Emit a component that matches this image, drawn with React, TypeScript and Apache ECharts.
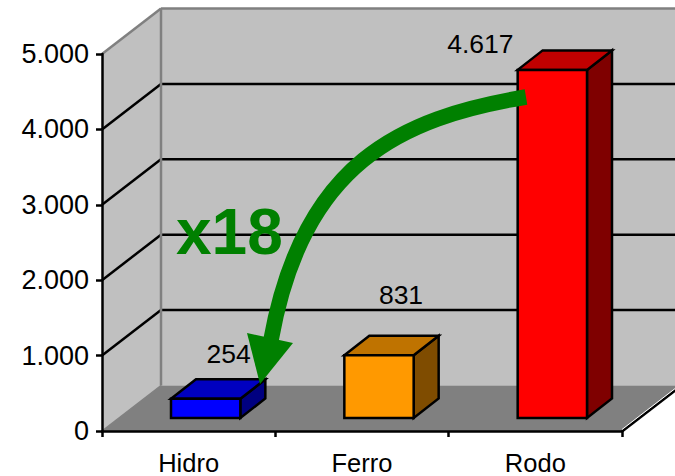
import React, { useEffect, useRef } from "react";
import * as echarts from "echarts";

const categories = ["Hidro", "Ferro", "Rodo"];
const values = [254, 831, 4617];
const valueLabels = ["254", "831", "4.617"];
const yTicks = [1000, 2000, 3000, 4000];
const frontColors = ["#0000FF", "#FF9900", "#FF0000"];
const topColors = ["#0000C0", "#BF7300", "#C00000"];
const sideColors = ["#000080", "#7F4C00", "#7F0000"];

const WALL_DX = 59;
const WALL_DY = -45.5;
const BAR_GAP_DX = 17;
const BAR_GAP_DY = -13;
const BAR_DEPTH_DX = 25;
const BAR_DEPTH_DY = -19.5;
const LABEL_OFFSETS = [[23, -45], [22, -60], [-72, -26]];
const FONT = '"Liberation Sans", Arial, sans-serif';

echarts.graphic.registerShape(
  "arrowCurve",
  echarts.graphic.extendPath("M526 97 C 400 118, 303 163, 271 340", {})
);

const line = (x1: number, y1: number, x2: number, y2: number, stroke: string, lineWidth: number) => ({
  type: "line",
  shape: { x1, y1, x2, y2 },
  style: { stroke, lineWidth, fill: "none" },
});

const wallsItem = (params: any, api: any) => {
  const cs = params.coordSys;
  const left = cs.x;
  const right = cs.x + cs.width;
  const top = cs.y;
  const bottom = cs.y + cs.height;
  const poly = (points: number[][], fill: string) => ({
    type: "polygon",
    shape: { points },
    style: { fill, stroke: "none" },
  });
  const children: any[] = [
    poly([[left + WALL_DX, top + WALL_DY], [right + WALL_DX, top + WALL_DY], [right + WALL_DX, bottom + WALL_DY], [left + WALL_DX, bottom + WALL_DY]], "#C0C0C0"),
    poly([[left, top], [left + WALL_DX, top + WALL_DY], [left + WALL_DX, bottom + WALL_DY], [left, bottom]], "#C0C0C0"),
    poly([[left, bottom], [right, bottom], [right + WALL_DX, bottom + WALL_DY], [left + WALL_DX, bottom + WALL_DY]], "#808080"),
  ];
  yTicks.forEach((v) => {
    const y = api.coord([0, v])[1];
    children.push(line(left, y, left + WALL_DX, y + WALL_DY, "#000", 2.5));
    children.push(line(left + WALL_DX, y + WALL_DY, right + WALL_DX, y + WALL_DY, "#000", 2.5));
  });
  children.push(line(left, top, left + WALL_DX, top + WALL_DY, "#808080", 2.5));
  children.push(line(left + WALL_DX, top + WALL_DY, right + WALL_DX, top + WALL_DY, "#808080", 2.5));
  children.push(line(left + WALL_DX, top + WALL_DY, left + WALL_DX, bottom + WALL_DY, "#808080", 2.5));
  children.push(line(left, bottom, left + WALL_DX, bottom + WALL_DY, "#808080", 1.5));
  children.push(line(right, bottom + 0.5, right + WALL_DX, bottom + WALL_DY + 0.5, "#000", 2.5));
  children.push(line(right, bottom - 1.5, right + WALL_DX, bottom + WALL_DY - 1.5, "#fff", 1));
  return { type: "group", children };
};

const barItem = (params: any, api: any) => {
  const i = api.value(0);
  const v = api.value(1);
  const [cx, yTop0] = api.coord([i, v]);
  const [, yBase0] = api.coord([i, 0]);
  const band = api.size([1, 0])[0];
  const w = band * 0.4;
  const x0 = cx - w / 2 + BAR_GAP_DX;
  const x1 = x0 + w;
  const yT = yTop0 + BAR_GAP_DY;
  const yB = yBase0 + BAR_GAP_DY;
  const dx = BAR_DEPTH_DX;
  const dy = BAR_DEPTH_DY;
  const face = (points: number[][], fill: string) => ({
    type: "polygon",
    shape: { points },
    style: { fill, stroke: "#000", lineWidth: 2.5, lineJoin: "miter" },
  });
  return {
    type: "group",
    children: [
      face([[x1, yT], [x1 + dx, yT + dy], [x1 + dx, yB + dy], [x1, yB]], sideColors[i]),
      face([[x0, yT], [x0 + dx, yT + dy], [x1 + dx, yT + dy], [x1, yT]], topColors[i]),
      face([[x0, yT], [x1, yT], [x1, yB], [x0, yB]], frontColors[i]),
      {
        type: "text",
        style: {
          text: valueLabels[i],
          x: (x0 + x1) / 2 + LABEL_OFFSETS[i][0],
          y: yT + LABEL_OFFSETS[i][1],
          fill: "#000",
          font: `26.5px ${FONT}`,
          align: "center",
          verticalAlign: "middle",
        },
      },
    ],
  };
};

export default function App() {
  const ref = useRef<HTMLDivElement>(null);
  useEffect(() => {
    const chart = echarts.init(ref.current!, null, { renderer: "svg" });
    chart.setOption({
      animation: false,
      backgroundColor: "#fff",
      grid: { left: 102, right: 53, top: 54, bottom: 45 },
      xAxis: {
        type: "category",
        data: categories,
        z: 3,
        axisLine: { lineStyle: { color: "#000", width: 2.5 } },
        axisTick: { show: true, length: 6, alignWithLabel: false, lineStyle: { color: "#000", width: 2.5 } },
        axisLabel: { color: "#000", fontFamily: FONT, fontSize: 25.5, margin: 19 },
        splitLine: { show: false },
      },
      yAxis: {
        type: "value",
        min: 0,
        max: 5000,
        interval: 1000,
        z: 3,
        axisLine: { show: true, lineStyle: { color: "#000", width: 2.5 } },
        axisTick: { show: true, length: 6, lineStyle: { color: "#000", width: 2.5 } },
        axisLabel: {
          color: "#000",
          fontFamily: FONT,
          fontSize: 27,
          margin: 13,
          formatter: (v: number) => (v === 0 ? "0" : `${v / 1000}.000`),
        },
        splitLine: { show: false },
      },
      series: [
        {
          type: "custom",
          z: 1,
          silent: true,
          renderItem: wallsItem,
          data: [[0, 0]],
          encode: { x: 0, y: 1 },
        },
        {
          type: "custom",
          z: 5,
          silent: true,
          renderItem: barItem,
          data: values.map((v, i) => [i, v]),
          encode: { x: 0, y: 1 },
        },
      ],
      graphic: [
        {
          type: "arrowCurve",
          x: 0,
          y: 0,
          z: 100,
          silent: true,
          style: { fill: "none", stroke: "#008000", lineWidth: 15.5 },
        },
        {
          type: "polygon",
          z: 100,
          silent: true,
          shape: { points: [[247, 333], [293, 343], [260, 384]] },
          style: { fill: "#008000" },
        },
        {
          type: "text",
          z: 100,
          silent: true,
          x: 176,
          y: 232,
          style: {
            text: "x18",
            fill: "#008000",
            font: `bold 64px ${FONT}`,
            align: "left",
            verticalAlign: "middle",
          },
        },
      ],
    });
    return () => chart.dispose();
  }, []);
  return <div ref={ref} style={{ position: "absolute", left: 0, top: 0, width: 675, height: 476 }} />;
}
